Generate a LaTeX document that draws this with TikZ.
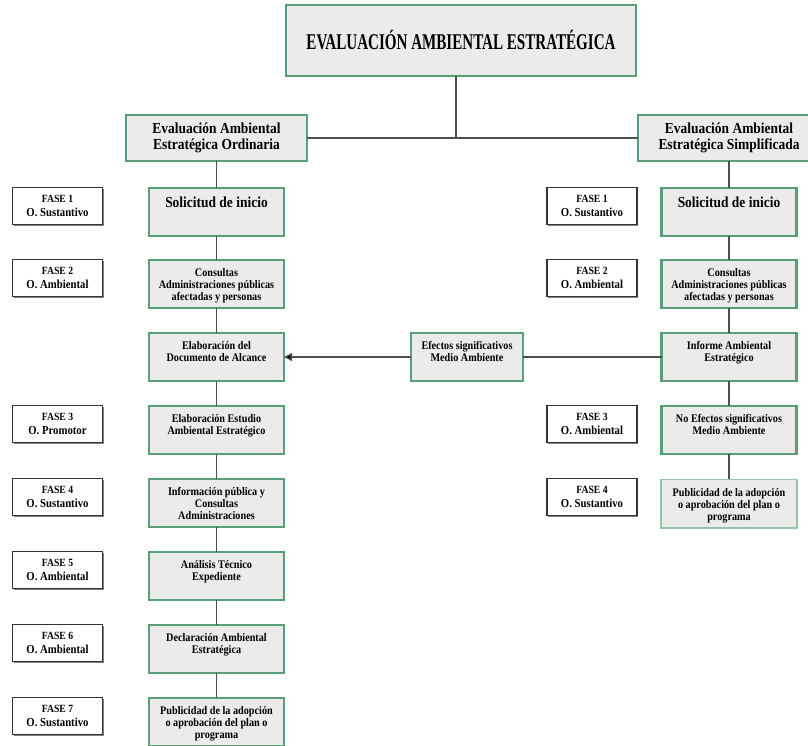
\documentclass[tikz,border=0pt]{standalone}
\usepackage{fontspec}
\setmainfont{Liberation Serif}[FakeStretch=0.88]
\newfontfamily\titlefont{Liberation Serif}[FakeStretch=0.67]
\usetikzlibrary{arrows.meta,shadows}
\definecolor{egreen}{RGB}{88,158,118}
\definecolor{lgreen}{RGB}{145,198,168}
\definecolor{boxgray}{RGB}{235,235,235}
\definecolor{linegray}{RGB}{80,80,80}
\newcommand\bt[2][11.6]{\vbox to 31pt{\hsize=134pt\centering\fontsize{#1}{12}\selectfont\bfseries #2\par\vss}}
\newcommand\fase[2]{{\fontsize{11}{14}\selectfont FASE #1}\\{\fontsize{12.2}{14}\selectfont #2}}
\tikzset{
  mainbox/.style={draw=egreen, line width=2.2pt, fill=boxgray, minimum width=135pt, minimum height=48pt, inner sep=0pt, outer sep=0pt,
    drop shadow={shadow xshift=0.8pt, shadow yshift=-1.2pt, fill=gray!70, opacity=1}},
  lightbox/.style={mainbox, draw=lgreen, line width=1.2pt, minimum width=136pt, minimum height=48.8pt},
  headbox/.style={draw=egreen, line width=2.2pt, fill=boxgray, minimum height=46pt, inner sep=0pt, outer sep=0pt, align=center,
    font=\bfseries\fontsize{15.3}{15.5}\selectfont,
    drop shadow={shadow xshift=0.8pt, shadow yshift=-1.2pt, fill=gray!70, opacity=1}},
  fasebox/.style={draw=black!80, line width=1.1pt, fill=white, minimum width=90pt, minimum height=37pt, inner sep=0pt, outer sep=0pt,
    align=center, font=\bfseries\fontsize{11}{14}\selectfont,
    drop shadow={shadow xshift=1.2pt, shadow yshift=-1.2pt, fill=gray, opacity=1}},
  conn/.style={draw=linegray, line width=1.3pt},
}
\begin{document}
\begin{tikzpicture}[x=1pt,y=-1pt]
\useasboundingbox (0,0) rectangle (808,746);
\fill[white] (0,0) rectangle (808,746);
% title
\node[headbox, minimum width=350pt, minimum height=71pt] (top) at (461,40.5)
  {\titlefont\bfseries\fontsize{22.5}{24}\selectfont EVALUACIÓN AMBIENTAL ESTRATÉGICA};
\node[headbox, minimum width=181pt] (hl) at (216.5,138) {Evaluación Ambiental\\Estratégica Ordinaria};
\node[headbox, minimum width=182pt] (hr) at (729,138) {Evaluación Ambiental\\Estratégica Simplificada};
\coordinate (j) at (456,138);
% left column
\node[mainbox] (l1) at (216.5,212) {\bt[15.3]{Solicitud de inicio}};
\node[mainbox] (l2) at (216.5,284) {\bt{Consultas\\Administraciones públicas\\afectadas y personas}};
\node[mainbox] (l3) at (216.5,357) {\bt{Elaboración del\\Documento de Alcance}};
\node[mainbox] (l4) at (216.5,430) {\bt{Elaboración Estudio\\Ambiental Estratégico}};
\node[mainbox] (l5) at (216.5,503) {\bt{Información pública y\\Consultas\\Administraciones}};
\node[mainbox] (l6) at (216.5,576) {\bt{Análisis Técnico\\Expediente}};
\node[mainbox] (l7) at (216.5,649) {\bt{Declaración Ambiental\\Estratégica}};
\node[mainbox] (l8) at (216.5,722) {\bt{Publicidad de la adopción\\o aprobación del plan o\\programa}};
% left phases
\node[fasebox] (fl1) at (57.5,206) {\fase{1}{O. Sustantivo}};
\node[fasebox] (fl2) at (57.5,278) {\fase{2}{O. Ambiental}};
\node[fasebox] (fl4) at (57.5,424) {\fase{3}{O. Promotor}};
\node[fasebox] (fl5) at (57.5,497) {\fase{4}{O. Sustantivo}};
\node[fasebox] (fl6) at (57.5,570) {\fase{5}{O. Ambiental}};
\node[fasebox] (fl7) at (57.5,643) {\fase{6}{O. Ambiental}};
\node[fasebox] (fl8) at (57.5,716) {\fase{7}{O. Sustantivo}};
% middle
\node[mainbox, minimum width=112pt] (ef) at (467,357) {\vbox to 31pt{\hsize=112pt\centering\fontsize{11.6}{12}\selectfont\bfseries Efectos significativos\\Medio Ambiente\par\vss}};
% right column
\node[mainbox] (r1) at (729,212) {\bt[15.3]{Solicitud de inicio}};
\node[mainbox] (r2) at (729,284) {\bt{Consultas\\Administraciones públicas\\afectadas y personas}};
\node[mainbox] (r3) at (729,357) {\bt{Informe Ambiental\\Estratégico}};
\node[mainbox] (r4) at (729,430) {\bt{No Efectos significativos\\Medio Ambiente}};
\node[lightbox] (r5) at (729,503.5) {\bt{Publicidad de la adopción\\o aprobación del plan o\\programa}};
% right phases
\node[fasebox] (fr1) at (592,206) {\fase{1}{O. Sustantivo}};
\node[fasebox] (fr2) at (592,278) {\fase{2}{O. Ambiental}};
\node[fasebox] (fr4) at (592,424) {\fase{3}{O. Ambiental}};
\node[fasebox] (fr5) at (592,497) {\fase{4}{O. Sustantivo}};
% connectors
\draw[conn] (top.south -| j) -- (j);
\draw[conn] (hl.east) -- (hr.west);
\draw[conn] (hl.south) -- (l1.north);
\draw[conn] (l1.south) -- (l2.north);
\draw[conn] (l2.south) -- (l3.north);
\draw[conn] (l3.south) -- (l4.north);
\draw[conn] (l4.south) -- (l5.north);
\draw[conn] (l5.south) -- (l6.north);
\draw[conn] (l6.south) -- (l7.north);
\draw[conn] (l7.south) -- (l8.north);
\draw[conn] (hr.south) -- (r1.north);
\draw[conn] (r1.south) -- (r2.north);
\draw[conn] (r2.south) -- (r3.north);
\draw[conn] (r3.south) -- (r4.north);
\draw[conn] (r4.south) -- (r5.north);
\draw[conn] (r3.west) -- (ef.east);
\draw[conn, -{Triangle[length=8pt,width=8pt,fill=black]}] (ef.west) -- (l3.east);
\end{tikzpicture}
\end{document}
